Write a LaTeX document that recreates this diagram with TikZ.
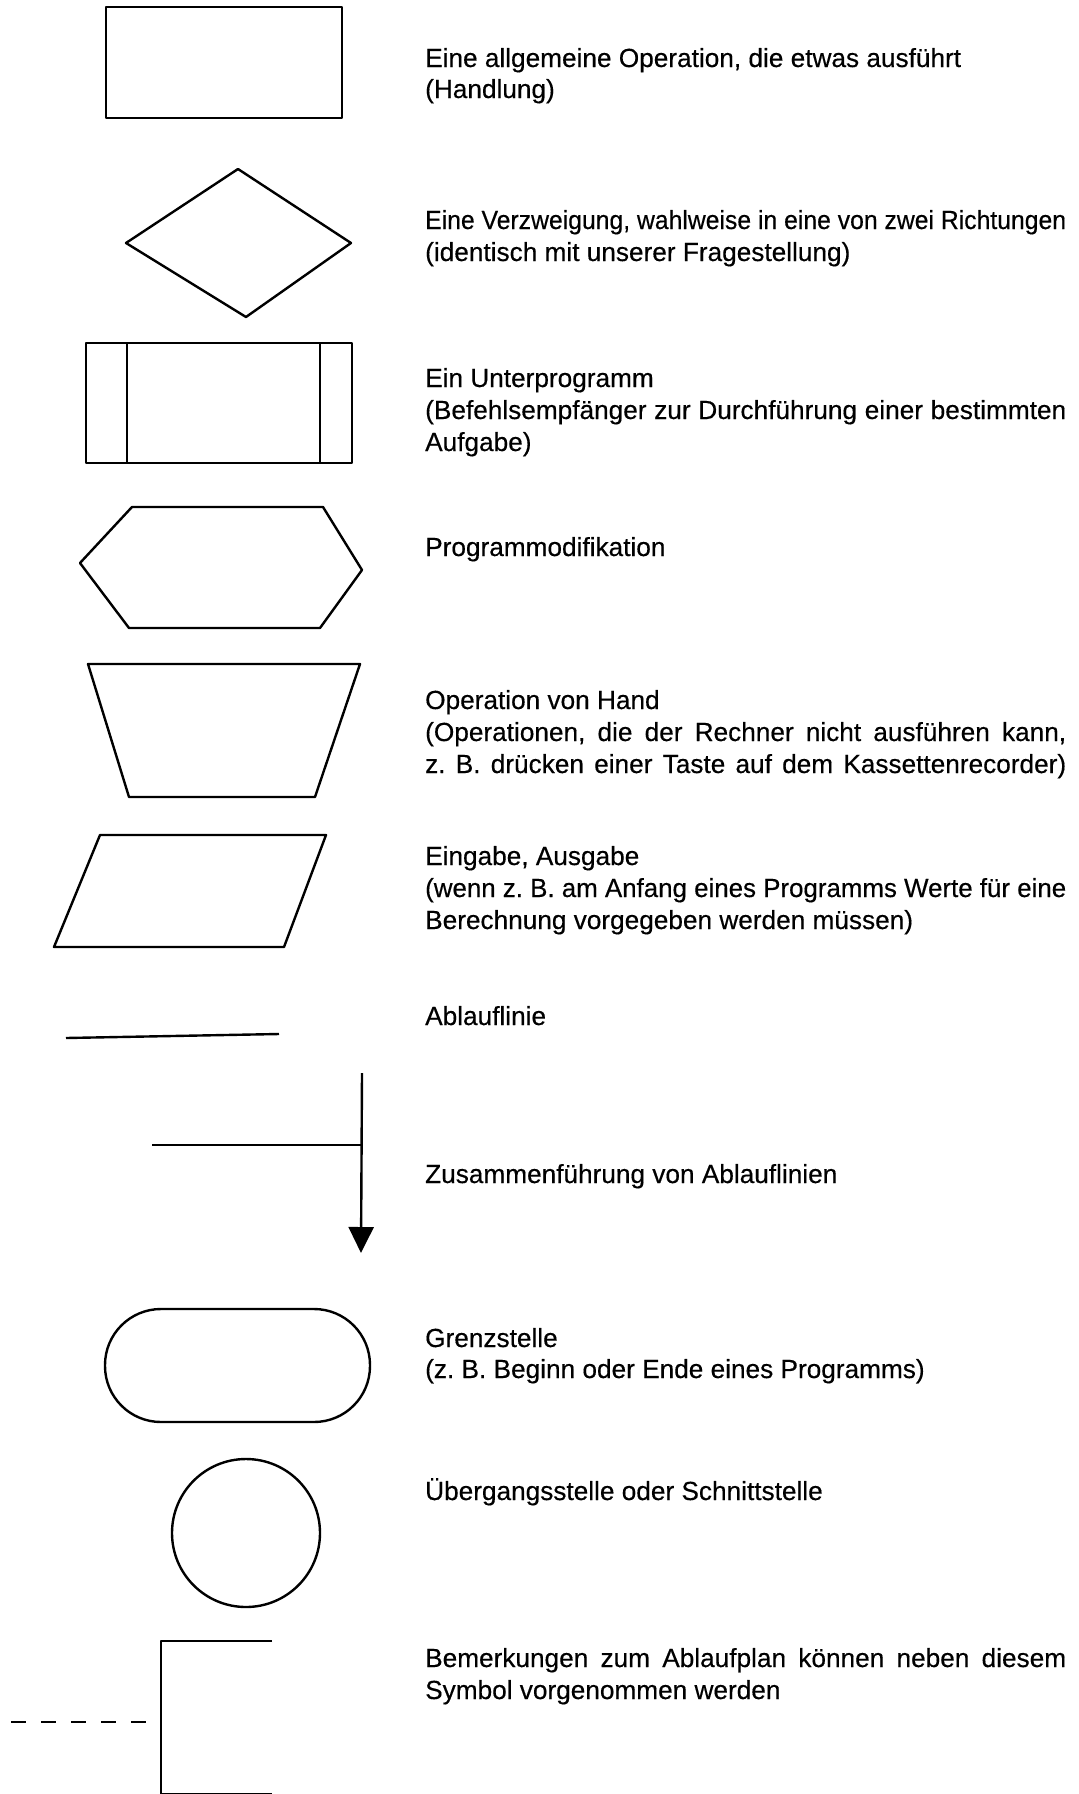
\documentclass[tikz,border=0pt]{standalone}
\usepackage{fontspec}
\usepackage{graphicx}
\setmainfont{Liberation Sans}[FakeBold=0.4]
\usetikzlibrary{arrows.meta}
\newsavebox\jbox
\newcommand\jl[1]{\sbox\jbox{#1}\ifdim\wd\jbox>641pt\relax\resizebox{641pt}{\ht\jbox}{\usebox\jbox}\else\makebox[641pt][s]{#1}\fi}
\begin{document}
\begin{tikzpicture}[x=1pt,y=-1pt,
  shp/.style={line width=2.4pt,line join=round},
  lbl/.style={anchor=base west,inner sep=0pt,font=\fontsize{26.2pt}{31.5pt}\selectfont\frenchspacing},
]
\fill[white] (0,0) rectangle (1079,1794);
\useasboundingbox (0,0) rectangle (1079,1794);
% 1 operation
\draw[shp] (106,7) rectangle (342,118);
\node[lbl] (t1a) at (425,67) {Eine allgemeine Operation, die etwas ausführt};
\node[lbl] (t1b) at (425,98) {(Handlung)};
% 2 decision
\draw[shp] (126,243) -- (238,169) -- (351,243) -- (246,317) -- cycle;
\node[lbl] (t2a) at (425,229) {\jl{Eine Verzweigung, wahlweise in eine von zwei Richtungen}};
\node[lbl] (t2b) at (425,261) {(identisch mit unserer Fragestellung)};
% 3 subprogram
\draw[shp] (86,343) rectangle (352,463);
\draw[shp] (127,343) -- (127,463) (320,343) -- (320,463);
\node[lbl] (t3a) at (425,387) {Ein Unterprogramm};
\node[lbl] (t3b) at (425,419) {\jl{(Befehlsempfänger zur Durchführung einer bestimmten}};
\node[lbl] (t3c) at (425,451) {Aufgabe)};
% 4 hexagon
\draw[shp] (80,563) -- (132,507) -- (323,507) -- (362,570) -- (320,628) -- (129,628) -- cycle;
\node[lbl] (t4) at (425,556) {Programmodifikation};
% 5 manual operation
\draw[shp] (88,664) -- (360,664) -- (315,797) -- (129,797) -- cycle;
\node[lbl] (t5a) at (425,709) {Operation von Hand};
\node[lbl] (t5b) at (425,741) {\jl{(Operationen, die der Rechner nicht ausführen kann,}};
\node[lbl] (t5c) at (425,773) {\jl{z. B. drücken einer Taste auf dem Kassettenrecorder)}};
% 6 input/output
\draw[shp] (100,835) -- (326,835) -- (284,947) -- (54,947) -- cycle;
\node[lbl] (t6a) at (425,865) {Eingabe, Ausgabe};
\node[lbl] (t6b) at (425,897) {\jl{(wenn z. B. am Anfang eines Programms Werte für eine}};
\node[lbl] (t6c) at (425,929) {Berechnung vorgegeben werden müssen)};
% 7 flow line
\coordinate (fl1) at (66,1038);
\coordinate (fl2) at (279,1034);
\draw[shp] (fl1) -- (fl2);
\node[lbl] (t7) at (425,1025) {Ablauflinie};
% 8 merge
\coordinate (m1) at (362,1073);
\coordinate (m2) at (361,1253);
\coordinate (m3) at (152,1145);
\coordinate (mj) at (362,1145);
\draw[shp,-{Triangle[length=26pt,width=25pt]}] (m1) -- (m2);
\draw[shp] (m3) -- (mj);
\node[lbl] (t8) at (425,1183) {Zusammenführung von Ablauflinien};
% 9 terminal
\draw[shp,rounded corners=56pt] (105,1309) rectangle (370,1422);
\node[lbl] (t9a) at (425,1347) {Grenzstelle};
\node[lbl] (t9b) at (425,1378) {(z. B. Beginn oder Ende eines Programms)};
% 10 connector
\draw[shp] (246,1533) circle[radius=74];
\node[lbl] (t10) at (425,1500) {Übergangsstelle oder Schnittstelle};
% 11 annotation
\coordinate (b1) at (272,1641);
\coordinate (b2) at (161,1641);
\coordinate (b3) at (161,1794);
\coordinate (b4) at (272,1794);
\coordinate (bd) at (11,1722);
\coordinate (bj) at (161,1722);
\draw[shp] (b1) -- (b2) -- (b3) -- (b4);
\draw[shp,dash pattern=on 15pt off 15pt] (bd) -- (bj);
\node[lbl] (t11a) at (425,1667) {\jl{Bemerkungen zum Ablaufplan können neben diesem}};
\node[lbl] (t11b) at (425,1699) {Symbol vorgenommen werden};
\end{tikzpicture}
\end{document}
